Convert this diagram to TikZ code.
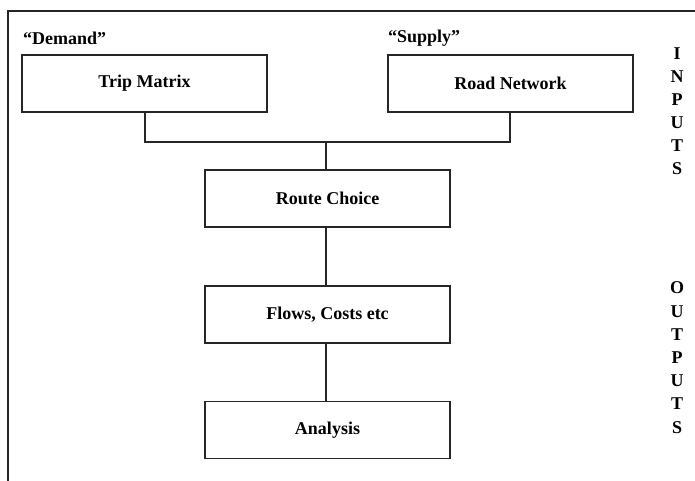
\documentclass[tikz,border=0pt]{standalone}
\usepackage{fontspec}
\setmainfont{Liberation Serif}
\begin{document}
\begin{tikzpicture}[x=1pt,y=-1pt,
  box/.style={draw=black!85, line width=1.3pt, minimum width=245pt, minimum height=57pt, inner sep=0pt, font=\fontsize{18}{21}\selectfont\bfseries},
  lbl/.style={font=\fontsize{18}{21}\selectfont\bfseries, inner sep=0pt},
  letter/.style={font=\fontsize{18}{21}\selectfont\bfseries, inner sep=0pt},
  conn/.style={draw=black!85, line width=1.3pt}]
\useasboundingbox (0,0) rectangle (695,481);
\coordinate (fb) at (8,482);
\coordinate (ftl) at (8,11);
\coordinate (fr) at (696,11);
\draw[black!85, line width=1.4pt] (fb) -- (ftl) -- (fr);
\node[box] (trip) at (144.5,83.5) {Trip Matrix};
\node[box] (road) at (510.5,83.5) {Road Network};
\node[box] (route) at (327.5,198.5) {Route Choice};
\node[box] (flows) at (327.5,314.5) {Flows, Costs etc};
\node[box] (anal) at (327.5,430) {Analysis};
\node[lbl, anchor=west] (dem) at (23,38) {“Demand”};
\node[lbl, anchor=west] (sup) at (388,38) {“Supply”};
\coordinate (j) at (326,142);
\draw[conn] (trip.south -| 145,0) |- (j) -| (road.south -| 510,0);
\draw[conn] (j) -- (route.north -| j);
\draw[conn] (route.south -| j) -- (flows.north -| j);
\draw[conn] (flows.south -| j) -- (anal.north -| j);
\foreach \c [count=\i from 0] in {I,N,P,U,T,S}
  \node[letter] (in\i) at (677,54+23*\i) {\c};
\foreach \c [count=\i from 0] in {O,U,T,P,U,T,S}
  \node[letter] (out\i) at (677,288+23.2*\i) {\c};
\end{tikzpicture}
\end{document}
